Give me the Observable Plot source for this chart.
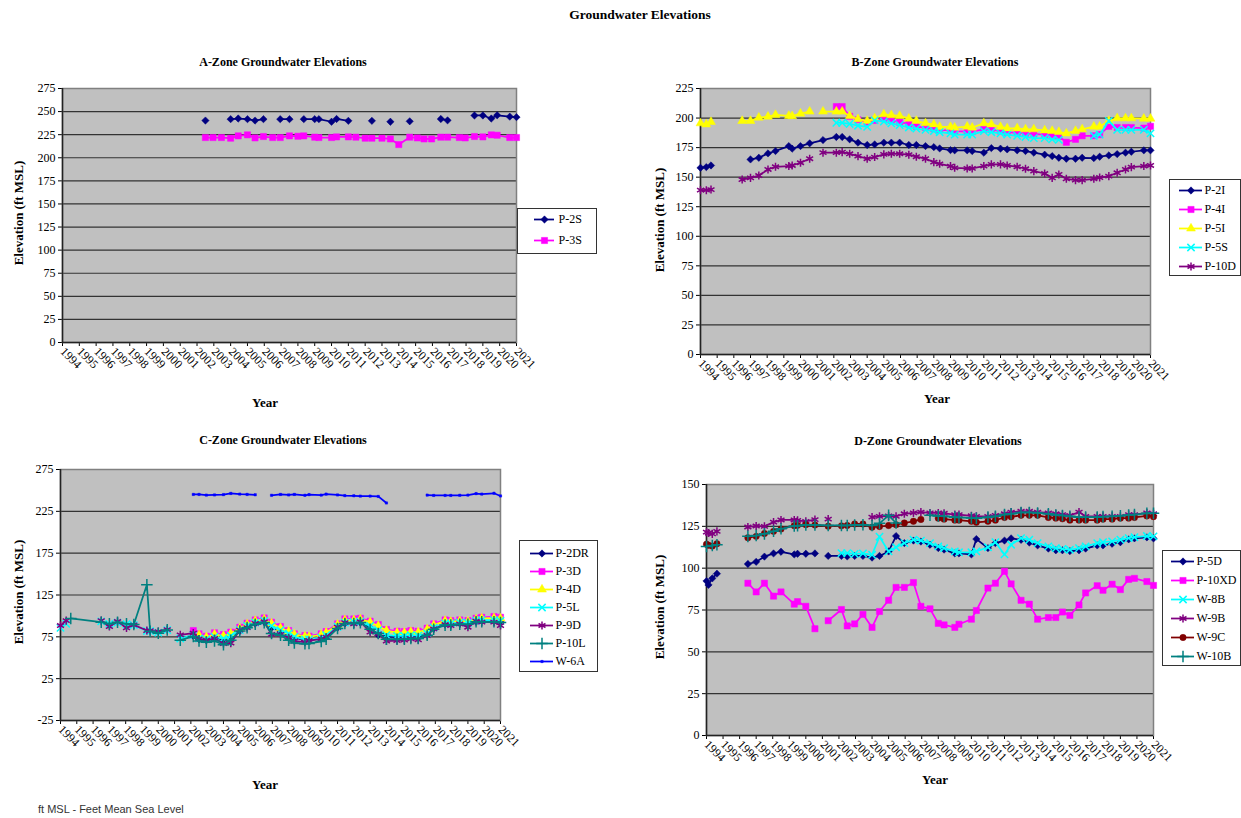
<!DOCTYPE html>
<html><head><meta charset="utf-8">
<script src="https://cdn.jsdelivr.net/npm/d3@7"></script>
<script src="https://cdn.jsdelivr.net/npm/@observablehq/plot@0.6"></script>
<style>
body{margin:0;background:#fff;}
#page{position:relative;width:1241px;height:818px;overflow:hidden;font-family:"Liberation Serif","Times New Roman",serif;color:#000;}
.ctr{position:absolute;transform:translateX(-50%);white-space:nowrap;font-weight:bold;font-size:12px;}
.rot{position:absolute;transform:translate(-50%,-50%) rotate(-90deg);white-space:nowrap;font-weight:bold;font-size:13px;}
.abs{position:absolute;}
.legend{position:absolute;background:#fff;border:1px solid #333;box-sizing:border-box;}
</style></head>
<body><div id="page"></div>
<script>
const N = null;        // no sample: line breaks
const _ = undefined;   // no sample: line continues

// sampling dates (decimal years)
const dates = [
 1994.0, 1994.12, 1994.35, 1994.63, 1995.5,
 1996.5, 1997.0, 1997.5, 1998.05, 1998.5, 1999.3, 1999.5, 2000.0, 2000.55, 2001.0,
 2001.35, 2002.15, 2002.5, 2002.95, 2003.45, 2004.0, 2004.45, 2005.0, 2005.45, 2005.95,
 2006.5, 2006.95, 2007.5, 2008.0, 2008.35, 2009.0, 2009.25, 2010.0, 2010.3, 2011.0,
 2011.45, 2012.0, 2012.4, 2013.0, 2013.5, 2014.0, 2014.65, 2015.1, 2015.5, 2015.95,
 2016.5, 2016.9, 2017.6, 2017.95, 2018.5, 2019.0, 2019.5, 2019.85, 2020.6, 2021.0
];
const years = d3.range(1994, 2022);

// ---- A-Zone ----
const p2S = [
 N,N,N,N,N,
 N,N,N,N,N,N,N,N,N,N,
 N,N,240.3,N,N,241.8,242.5,241.8,240.3,241.8,
 N,241.8,241.8,N,241.8,241.8,241.8,239,242,240,
 N,N,240,N,239,N,239.5,N,N,N,
 242,240.5,N,N,245.8,245.8,242.5,246,244.5,244
];
const p3S = [
 N,N,N,N,N,
 N,N,N,N,N,N,N,N,N,N,
 N,N,221.9,221.9,221.9,221.2,223.7,224.8,221.5,223,
 221.9,221.9,223.7,223.3,223.7,222.3,221.9,221.9,222.6,222.6,
 222.3,221.2,221.2,221.2,220.4,214.3,222.3,221.5,220.4,220.4,
 222.3,222.3,221.9,221.5,223,222.6,224.8,224.4,221.9,221.9
];
// ---- B-Zone ----
const p2I = [
 157.9,_,158.5,159.9,N,
 N,165.0,166.4,170.1,172.1,176.3,174.1,176.3,178.6,_,
 181.4,184.0,184.0,182.0,179.2,177.2,177.7,179.2,179.2,179.2,
 177.2,177.2,176.3,175.4,174.3,172.9,172.7,172.7,172.1,170.7,
 174.6,174.1,173.5,172.7,172.1,170.7,169.0,167.8,166.4,165.6,
 165.6,166.4,166.1,167.3,168.4,169.5,170.7,171.5,172.7,172.7
];
const p4I = [
 N,N,N,N,N,
 N,N,N,N,N,N,N,N,N,N,
 N,209.7,209.7,201.5,198.5,196.5,198,199.5,198,196.5,
 195,193,192,191,190,189.5,189,188.5,188.5,190.5,
 190.5,189,188,187.5,187,186.5,186,185.5,184.5,179.5,
 182,185,185,186,193,192,192,192,191.5,193
];
const p5I = [
 195.6,_,194.7,196.7,N,
 197.6,197.6,200.4,201.2,202.7,201.9,201.6,203.8,205.5,N,
 205.5,205.5,205.5,201.8,199,197.6,199.8,203.2,202.4,201.8,
 199.5,197.6,195.6,194.7,192.5,192.5,191.9,192.8,191.9,195.6,
 194.7,192.5,191.3,191.3,190.5,190.5,189.6,189.1,188.2,187,
 189.1,190.5,192.8,192.8,197.6,199.8,199.8,199.8,199.5,199.5
];
const p5S = [
 N,N,N,N,N,
 N,N,N,N,N,N,N,N,N,N,
 N,196,196,195,193.5,192.5,198,197,195.5,194,
 192,191,190,189,188,187,186,186,186,189,
 188,187,186,185,184,183,183,182,181.5,N,
 N,N,185,186,197.6,190,190,190,190,187
];
const p10D = [
 139,_,139,139.5,N,
 148,149.4,151.4,156.5,158.8,159.4,159.9,162.2,165.6,N,
 170.7,170.7,171.2,169.8,167.8,165.6,167,169.3,169.8,169.8,
 169,167.3,165.6,162.7,161.3,159.4,157.9,157.4,157.4,159.4,
 160.8,160.8,159.9,158.8,157.1,155.1,153.1,149.4,152.3,148.6,
 147.5,147.5,148.6,149.7,150.9,153.7,156.5,158.5,159.4,159.9
];
// ---- C-Zone ----
const p2DR = [
 N,N,N,N,N,
 N,N,N,N,N,N,N,N,N,N,
 N,76,72,71,74,72,75,82,87,91,
 93,86,82,77,74,71,71,73,76,86,
 91,92,92,86,77,75,75,75,76,75.5,
 78,85,90,90,91,90.5,93,94,94,93
];
const p3D = [
 N,N,N,N,N,
 N,N,N,N,N,N,N,N,N,N,
 N,82.5,78.6,75.8,79.8,77.8,80.6,86.5,91.3,95.2,
 97.6,92.5,87.3,82.5,78.6,76.6,75.8,78.6,81.3,90.5,
 96.4,96.4,97.2,93.7,89.7,83.7,81.7,81.3,82.5,81.7,
 85.3,90.5,95.2,94.4,95.2,94.4,97.2,98.4,99.2,98.4
];
const p4D = [
 N,N,N,N,N,
 N,N,N,N,N,N,N,N,N,N,
 N,N,77,74.5,78,76,79,85,90,94,
 96,91,85.5,81.5,78,75.5,75,77.5,80,89.5,
 95,95,96,92.5,88,82.5,80,80,81,80.5,
 84,89,94,93,94,93.5,96,97,97.5,97
];
const p5L = [
 85.7,_,90.5,N,N,
 93.5,90.5,92,90,89,82,82,80,83,N,
 73,77,73,72,75,73,76,83,88,92,
 94,88,83,79,75,72,72,74,77,87,
 92,92.5,93,88,83,77,76,76,77,76.5,
 79,86,91,91,92,91.5,94,95,95,94
];
const p9D = [
 88.5,_,94.4,N,N,
 94.4,87.3,93.3,85.7,89.3,82.5,82.5,81.3,83.7,N,
 77.4,79.5,72.5,71,73,67,67.5,83,86,91,
 93,78,78,74,69.8,68.7,70.6,72.6,74.6,86.5,
 92,90.5,93,80.6,78.6,70,70.6,71,72.6,71.5,
 76.6,84.5,89.7,88.5,90.5,86.5,93.7,92.5,92.5,88.5
];
const p10L = [
 N,N,N,97,_,
 92.5,90.5,92.5,90.5,89.7,137.3,81.7,79.4,83.3,N,
 71,75.5,70,68.5,70,65.5,71,82,86,90,
 92,79,77,71,67.5,66.7,67,69.5,72,85,
 91,91,92,84,79,72,72,72,73,73,
 77,84,89,89,90,90,93,93,93,92
];
const w6A = [
 N,N,N,N,N,
 N,N,N,N,N,N,N,N,N,N,
 N,245.2,245.2,244.4,244.6,245,246.4,245.6,245.2,244.8,
 N,244.2,245.2,244.6,245.2,244.2,245,244.4,245.6,244.6,
 243.8,243.6,243.2,243.2,242.8,235,N,N,N,N,
 244.4,244,244,244,244.2,244.4,246.2,245.6,246.6,243.4
];
// ---- D-Zone ----
const p5D = [
 92.3,90,93.9,96.7,N,
 102.5,103.8,106.9,108.8,109.8,108.2,108.6,108.6,108.8,N,
 107.3,107.3,107,107.3,107.3,106.3,107.3,110,119.2,115,
 116.5,115.9,114,112,111.1,108.8,108.8,108.2,117.4,112,
 115,116.5,117.8,116.9,115.3,113.6,111.7,110.7,110.7,110.2,
 110.7,111.7,113.6,113.6,114.6,115.5,117.2,117.8,118.4,117.8
];
const p10XD = [
 N,N,N,N,N,
 91,85.8,91,83.3,85.8,78.5,80,77.2,63.8,N,
 68.6,75.3,65.5,66.7,72.4,64.6,74.1,80.8,88.5,88.5,
 91.4,77.2,75.7,67,66.1,64.6,66.5,69.5,74.7,88.1,
 91,98.1,90.6,80.8,78.5,69.5,70.5,70.5,73.8,71.8,
 78,85.2,89.5,86.8,90.4,87.2,93.3,93.9,92,89.7
];
const w8B = [
 N,N,N,N,N,
 N,N,N,N,N,N,N,N,N,N,
 N,109,109,108.5,108.8,108,118.8,110,112.5,115,
 117,116.5,115,113,112,110,109.5,109.5,110,112.5,
 115.5,108.2,114,118,117,115,113,112,111.5,111,
 112,113,115,115.5,116,117,118,118.5,119.2,119
];
const w9B = [
 121.5,121,120.5,122,N,
 124.6,125.2,125,127.5,128.8,128.8,128.6,128,129,N,
 129.3,N,N,N,N,130.5,131,131.2,131,132.5,
 133,133.5,133,133,132.8,132,132,131.3,131,131,
 131.5,132.5,133.5,134,134,133.5,133,132.5,132,131.5,
 133.5,131,131,131,131,131,132,132,133,132.5
];
const w9C = [
 114.3,113.7,113.2,114.6,N,
 118.2,119,120.7,122,123.4,125.4,125.6,126,125.8,_,
 125.1,125.3,125.5,126.4,126.4,124.5,124.9,125.5,126,127,
 128,129.1,N,129.9,129.3,128.7,128.7,128,127.4,128,
 128.7,130.3,130.7,131.6,131.6,131.6,130.3,129.9,129.5,128.7,
 128.7,128.7,128.7,129.3,129.3,129.9,129.9,130.3,131.2,130.8
];
const w10B = [
 113,_,113.5,114,N,
 119,119.5,120.5,122,123.5,125.2,125.4,125.8,125.8,_,
 125.5,125.5,125.5,125.8,126,125.5,126.8,131.6,127,N,
 N,N,131.6,131.2,131,130.5,130.3,130,129.8,130.5,
 131,132,132.5,133.3,133.3,133,132.5,131.8,131.5,131,
 130.5,130.5,130.5,130.8,131,131.3,131.8,132,132.8,132.8
];

// Excel-style series looks
const STY = [
 {color:"#000080", symbol:"diamond2", r:3.3, filled:true},
 {color:"#FF00FF", symbol:"square",   r:3.5, filled:true},
 {color:"#FFFF00", symbol:"triangle", r:3.3, filled:true},
 {color:"#00FFFF", symbol:"times",    r:3.4, filled:false},
 {color:"#800080", symbol:"asterisk", r:3.8, filled:false},
 {color:"#800000", symbol:"circle",   r:3.2, filled:true},
 {color:"#008080", symbol:"plus",     r:3.8, filled:false},
 {color:"#0000FF", symbol:"square",   r:1.3, filled:true}
];

const panels = [
 {title:"A-Zone Groundwater Elevations", tx:283, ty:55,
  left:0, top:75, width:540, height:330, ml:62, mr:24, mt:13, mb:63,
  yDomain:[0,275], yTicks:d3.range(0,276,25),
  series:[["P-2S",p2S,0],["P-3S",p3S,1]],
  yTitle:[19,213], year:[265,395],
  legend:{left:517, top:208, w:80, h:46, y1:10, y2:31, l1:16, l2:36, tx:40}},
 {title:"B-Zone Groundwater Elevations", tx:935, ty:55,
  left:640, top:75, width:540, height:330, ml:60, mr:30, mt:13, mb:51,
  yDomain:[0,225], yTicks:d3.range(0,226,25),
  series:[["P-2I",p2I,0],["P-4I",p4I,1],["P-5I",p5I,2],["P-5S",p5S,3],["P-10D",p10D,4]],
  yTitle:[660,220], year:[937,391],
  legend:{left:1169, top:179, w:72, h:97, y1:9, y2:87.5, l1:9, l2:32, tx:34}},
 {title:"C-Zone Groundwater Elevations", tx:283, ty:433,
  left:0, top:455, width:540, height:340, ml:60, mr:40, mt:14, mb:75,
  yDomain:[-25,275], yTicks:d3.range(-25,276,50),
  series:[["P-2DR",p2DR,0],["P-3D",p3D,1],["P-4D",p4D,2],["P-5L",p5L,3],["P-9D",p9D,4],["P-10L",p10L,6],["W-6A",w6A,7]],
  yTitle:[19,592], year:[265,777],
  legend:{left:519, top:540, w:79, h:132, y1:10, y2:121, l1:10, l2:33, tx:35}},
 {title:"D-Zone Groundwater Elevations", tx:938, ty:434,
  left:640, top:470, width:540, height:320, ml:66, mr:27, mt:14, mb:55,
  yDomain:[0,150], yTicks:d3.range(0,151,25),
  series:[["P-5D",p5D,0],["P-10XD",p10XD,1],["W-8B",w8B,3],["W-9B",w9B,4],["W-9C",w9C,5],["W-10B",w10B,6]],
  yTitle:[660,607], year:[935,772],
  legend:{left:1162, top:550, w:79, h:116, y1:10, y2:105, l1:8, l2:31, tx:33}}
];

const page = document.getElementById("page");
function addDiv(cls, text, x, y, extra) {
  const d = document.createElement("div");
  d.className = cls; d.textContent = text;
  d.style.left = x + "px"; d.style.top = y + "px";
  if (extra) Object.assign(d.style, extra);
  page.appendChild(d);
  return d;
}

addDiv("ctr", "Groundwater Elevations", 640, 7, {fontSize:"13.5px"});

function dotStyle(s, o) {
  if (s.filled) { o.fill = s.color; o.stroke = s.color; o.strokeWidth = 0.5; }
  else { o.fill = "none"; o.stroke = s.color; o.strokeWidth = 1.5; }
  return o;
}
function seriesMarks(vals, s) {
  const pts = dates.map((d,i)=>({x:d, y:vals[i]})).filter(q=>q.y !== undefined);
  return [
    Plot.line(pts, {x:"x", y:"y", stroke:s.color, strokeWidth:1.75}),
    Plot.dot(pts.filter(q=>q.y != null), dotStyle(s, {x:"x", y:"y", symbol:s.symbol, r:s.r}))
  ];
}

for (const p of panels) {
  addDiv("ctr", p.title, p.tx, p.ty);
  addDiv("rot", "Elevation (ft MSL)", p.yTitle[0], p.yTitle[1]);
  addDiv("ctr", "Year", p.year[0], p.year[1], {fontSize:"13px"});

  const marks = [
    Plot.frame({fill:"#c0c0c0", stroke:null}),
    Plot.ruleY(p.yTicks, {stroke:"#333", strokeWidth:1.2}),
    Plot.frame({stroke:"#808080", strokeWidth:1.5, fill:"none"}),
    Plot.ruleX([1994], {stroke:"#222", strokeWidth:1.5}),
    Plot.ruleY([p.yDomain[0]], {stroke:"#222", strokeWidth:1.5})
  ];
  for (const [name, vals, si] of p.series) marks.push(...seriesMarks(vals, STY[si]));

  const svg = Plot.plot({
    width:p.width, height:p.height,
    marginLeft:p.ml, marginRight:p.mr, marginTop:p.mt, marginBottom:p.mb,
    style:{fontFamily:"'Liberation Serif', 'Times New Roman', serif", fontSize:"12px", color:"#000", background:"transparent", overflow:"visible"},
    x:{domain:[1994,2021], ticks:years, tickFormat:d=>String(d), tickRotate:45, tickSize:4, tickPadding:3, label:null},
    y:{domain:p.yDomain, ticks:p.yTicks, tickFormat:d=>String(d), tickSize:4, tickPadding:3, label:null},
    marks
  });
  svg.style.position = "absolute";
  svg.style.left = p.left + "px";
  svg.style.top = p.top + "px";
  page.appendChild(svg);

  // legend
  const L = p.legend;
  const box = document.createElement("div");
  box.className = "legend";
  Object.assign(box.style, {left:L.left+"px", top:L.top+"px", width:L.w+"px", height:L.h+"px"});
  const names = p.series.map(s=>s[0]);
  const lm = [];
  for (const [name,,si] of p.series) {
    const s = STY[si];
    lm.push(Plot.ruleY([name], {y:d=>d, x1:()=>L.l1, x2:()=>L.l2, stroke:s.color, strokeWidth:1.75}));
    lm.push(Plot.dot([name], dotStyle(s, {x:()=>(L.l1+L.l2)/2, y:d=>d, symbol:s.symbol, r:s.r})));
  }
  lm.push(Plot.text(names, {x:()=>L.tx, y:d=>d, text:d=>d, textAnchor:"start", fontSize:12, fill:"#000"}));
  const lsvg = Plot.plot({
    width:L.w-2, height:L.h-2, margin:0,
    style:{fontFamily:"'Liberation Serif', 'Times New Roman', serif", fontSize:"12px", background:"transparent", overflow:"visible"},
    x:{domain:[0,L.w-2], range:[0,L.w-2], axis:null},
    y:{type:"point", domain:names, range:[L.y1, L.y2], padding:0, axis:null},
    marks:lm
  });
  lsvg.style.display = "block";
  box.appendChild(lsvg);
  page.appendChild(box);
}

addDiv("abs", "ft MSL - Feet Mean Sea Level", 38, 803,
  {fontFamily:"'Liberation Sans', Arial, sans-serif", fontSize:"11px", color:"#333"});

// sanity check on array lengths
const allArr = {p2S,p3S,p2I,p4I,p5I,p5S,p10D,p2DR,p3D,p4D,p5L,p9D,p10L,w6A,p5D,p10XD,w8B,w9B,w9C,w10B};
const bad = Object.entries(allArr).filter(([k,v])=>v.length !== dates.length).map(([k,v])=>k+":"+v.length);
if (bad.length) addDiv("abs", "LEN " + bad.join(" "), 300, 790, {color:"red"});
</script>
</body></html>
